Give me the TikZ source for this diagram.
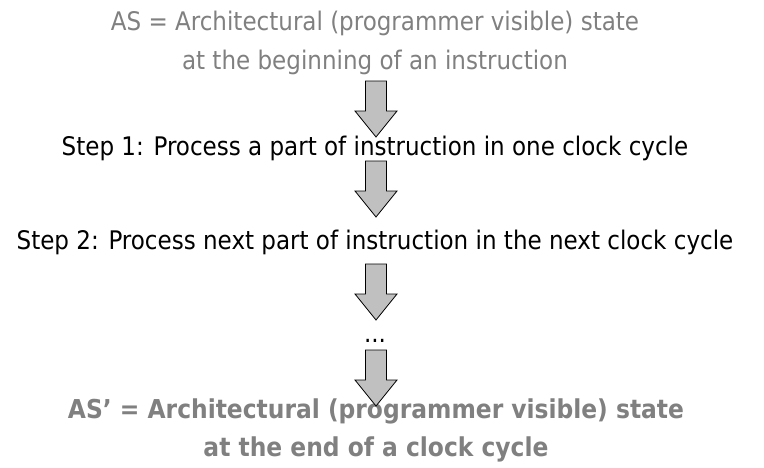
\documentclass[tikz,border=0pt]{standalone}
\usepackage{fontspec}
\setmainfont{DejaVu Sans Condensed}
\usepackage{tikz}
\usetikzlibrary{calc}
\definecolor{statetext}{RGB}{128,128,128}
\definecolor{pfeilfill}{RGB}{192,192,192}
\tikzset{
	statelabel/.style={anchor=base, text=statetext, font=\fontsize{25.6}{30}\selectfont, inner sep=0pt},
	steplabel/.style={anchor=base, text=black, font=\fontsize{25.6}{30}\selectfont, inner sep=0pt},
	endlabel/.style={anchor=base, text=statetext, font=\fontsize{26}{30}\selectfont\bfseries, inner sep=0pt},
	blockarrow/.pic={
		\draw[fill=pfeilfill, draw=black, line width=0.8pt, line join=miter]
			(-10.5pt,0) -- (10.5pt,0) -- (10.5pt,-30pt) -- (21pt,-30pt) -- (0,-56pt)
			-- (-21pt,-30pt) -- (-10.5pt,-30pt) -- cycle;
	}
}

\begin{document}
\begin{tikzpicture}[x=1pt, y=1pt]

	\useasboundingbox (0,0) rectangle (764,-467);

	% architectural state before
	\node[statelabel] (as1) at (375,-30) {AS = Architectural (programmer visible) state};
	\node[statelabel] (as2) at (375,-69) {at the beginning of an instruction};

	% steps
	\node[steplabel] (step1) at (375,-155) {Step 1: Process a part of instruction in one clock cycle};
	\node[steplabel] (step2) at (375,-249) {Step 2: Process next part of instruction in the next clock cycle};
	\node[steplabel] (dots) at (375,-342) {...};

	% architectural state after
	\node[endlabel] (asend1) at (376,-418) {AS’ = Architectural (programmer visible) state};
	\node[endlabel] (asend2) at (376,-456) {at the end of a clock cycle};

	% block arrows
	\foreach \ytop in {81, 161, 264, 350}
		\pic at (376,-\ytop) {blockarrow};

\end{tikzpicture}
\end{document}
